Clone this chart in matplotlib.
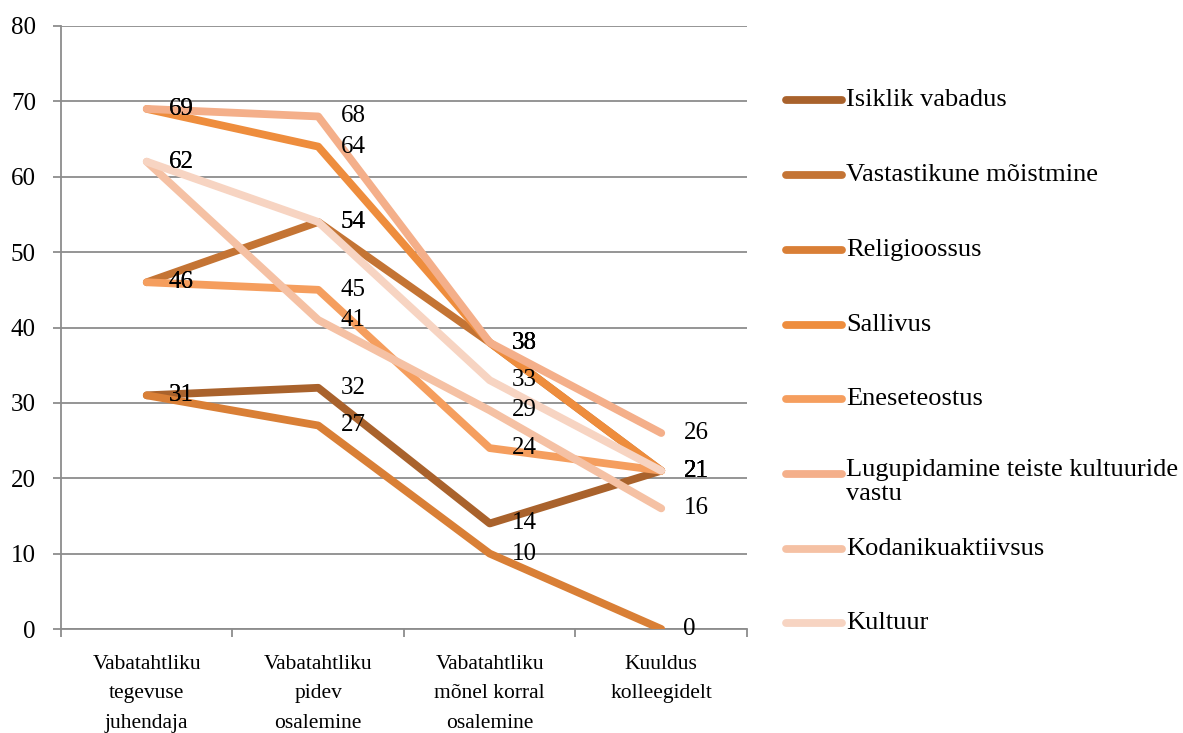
import numpy as np
import matplotlib.pyplot as plt
from matplotlib.lines import Line2D

# ========= DATA =========
categories = ["Vabatahtliku\ntegevuse\njuhendaja", "Vabatahtliku\npidev\nosalemine",
              "Vabatahtliku\nmõnel korral\nosalemine", "Kuuldus\nkolleegidelt"]
series_names = ["Isiklik vabadus", "Vastastikune mõistmine", "Religioossus", "Sallivus",
                "Eneseteostus", "Lugupidamine teiste kultuuride\nvastu",
                "Kodanikuaktiivsus", "Kultuur"]
isiklik = [31, 32, 14, 21]
vastastikune = [46, 54, 38, 21]
religioossus = [31, 27, 10, 0]
sallivus = [69, 64, 38, 21]
eneseteostus = [46, 45, 24, 21]
lugupidamine = [69, 68, 38, 26]
kodanik = [62, 41, 29, 16]
kultuur = [62, 54, 33, 21]
all_series = [isiklik, vastastikune, religioossus, sallivus,
              eneseteostus, lugupidamine, kodanik, kultuur]
colors = ["#A9622C", "#C47434", "#D97F36", "#EE8D3D",
          "#F59E5E", "#F4AF8A", "#F5C1A4", "#F7D4C2"]

# ========= PLOT =========
plt.rcParams['font.family'] = ['Liberation Serif', 'DejaVu Serif']
FS_NUM = 18      # data labels, y ticks
FS_CAT = 15.5    # category labels
FS_LEG = 19      # legend

fig = plt.figure(figsize=(11.83, 7.33), dpi=100)
W, H = 1183, 733
ax = fig.add_axes([61 / W, 1 - 629 / H, (747 - 61) / W, (629 - 26) / H])

x = np.arange(len(categories))
for vals, c in zip(all_series, colors):
    ax.plot(x, vals, color=c, lw=5.6, solid_capstyle='round', solid_joinstyle='round', zorder=3)
for vals in all_series:
    for xi, v in zip(x, vals):
        ax.annotate(str(v), (xi, v), xytext=(16, 0), textcoords='offset points',
                    va='center', ha='left', fontsize=FS_NUM, color='black', zorder=5)

ax.set_xlim(-0.5, 3.5)
ax.set_ylim(0, 80)
ax.set_yticks(np.arange(0, 81, 10))
ax.grid(axis='y', color='#8c8c8c', lw=1.3, zorder=0)
ax.set_axisbelow(True)
for s in ['top', 'right']:
    ax.spines[s].set_visible(False)
for s in ['left', 'bottom']:
    ax.spines[s].set_color('#8c8c8c')
    ax.spines[s].set_linewidth(1.3)

ax.set_xticks(x)
ax.set_xticklabels(categories, fontsize=FS_CAT, linespacing=1.72)
ax.set_xticks(np.arange(-0.5, 4, 1), minor=True)
ax.tick_params(axis='x', which='major', length=0, pad=19)
ax.tick_params(axis='x', which='minor', length=6, color='#8c8c8c', width=1.3, direction='out')
ax.tick_params(axis='y', length=6, color='#8c8c8c', width=1.3, pad=12, labelsize=FS_NUM)

# ========= LEGEND =========
leg_y = [100, 175, 250, 325, 399, 474, 549, 623]
for name, c, yy in zip(series_names, colors, leg_y):
    fy = 1 - yy / H
    fig.add_artist(Line2D([786 / W, 842 / W], [fy, fy], color=c, lw=5.6,
                          solid_capstyle='round', transform=fig.transFigure))
    if '\n' in name:
        fig.text(846 / W, fy + 15 / H, name, fontsize=FS_LEG, va='top', ha='left',
                 linespacing=1.1)
    else:
        fig.text(846 / W, fy, name, fontsize=FS_LEG, va='center', ha='left')

fig.savefig("out.png", dpi=100)
